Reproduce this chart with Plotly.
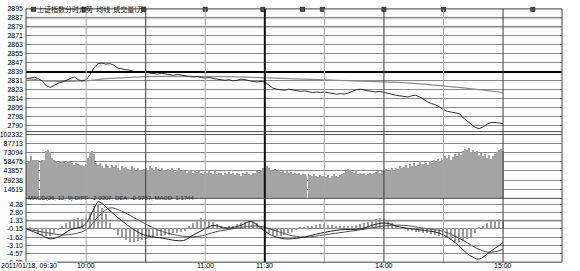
import plotly.graph_objects as go

W, H = 580, 271

# ---------------- data ----------------
prev_close = 2839.0
price_tick_vals = [2790.34, 2798.45, 2806.56, 2814.67, 2822.78, 2830.89, 2839.0,
                   2847.11, 2855.22, 2863.33, 2871.44, 2879.55, 2887.66, 2895.77]
price_tick_text = ["2790", "2798", "2806", "2814", "2823", "2831", "2839",
                   "2847", "2855", "2863", "2871", "2879", "2887", "2895"]
pct_tick_text = ["1.7%", "1.4%", "1.1%", "0.9%", "0.6%", "0.3%", "0.0%",
                 "0.3%", "0.6%", "0.9%", "1.1%", "1.4%", "1.7%", "2.0%"]
vol_tick_vals = [14619, 29238, 43857, 58475, 73094, 87713, 102332]
vol_tick_text = ["14619", "29238", "43857", "58475", "73094", "87713", "102332"]
macd_tick_vals = [-6.05, -4.57, -3.10, -1.62, -0.15, 1.33, 2.80, 4.28]
macd_tick_text = ["-6.05", "-4.57", "-3.10", "-1.62", "-0.15", "1.33", "2.80", "4.28"]

time_tick_vals = [30, 90, 120, 180, 240]
time_tick_text = ["10:00", "11:00", "11:30", "14:00", "15:00"]
date_label = "2011/01/18, 09:30"
title_text = "上证指数分时走势  均线  成交量(万)"
macd_text = "MACD(26, 12, 9) DIFF: -2.0307, DEA: -0.0757, MACD: 1.1744"

price_minutes = list(range(0, 241, 2))
price = [2833.0, 2833.8, 2834.2, 2833.0, 2830.5, 2826.5, 2825.0, 2827.0, 2829.0, 2830.0,
         2831.5, 2833.0, 2834.5, 2832.0, 2831.0, 2832.0, 2836.5, 2843.0, 2846.5, 2847.0,
         2846.0, 2846.5, 2845.0, 2842.5, 2841.5, 2841.0, 2840.5, 2839.5, 2838.5, 2838.5,
         2839.0, 2838.0, 2837.5, 2837.0, 2837.8, 2837.0, 2836.5, 2836.0, 2836.8, 2836.0,
         2835.5, 2835.0, 2834.5, 2835.0, 2834.0, 2833.5, 2834.0, 2833.0, 2832.5, 2832.0,
         2831.5, 2832.0, 2831.0, 2831.5, 2832.5, 2832.0, 2831.0, 2830.5, 2830.0, 2830.5,
         2830.0, 2827.0, 2824.5, 2823.5, 2823.0, 2822.5, 2823.5, 2823.0, 2822.0, 2821.5,
         2822.0, 2821.0, 2820.5, 2821.0, 2820.5, 2821.0, 2820.5, 2819.5, 2819.0, 2819.5,
         2819.0, 2820.0, 2821.5, 2823.0, 2823.5, 2822.5, 2822.0, 2821.5, 2821.0, 2821.5,
         2820.5, 2819.5, 2818.5, 2818.0, 2817.5, 2817.0, 2816.5, 2817.5, 2818.0, 2816.5,
         2814.0, 2812.0, 2810.5, 2809.5, 2807.5, 2805.0, 2803.5, 2803.0, 2802.5, 2801.5,
         2797.5, 2794.5, 2792.0, 2789.0, 2788.0, 2789.5, 2792.0, 2793.5, 2793.5, 2793.0,
         2792.5]

avg_minutes = [0, 10, 20, 30, 40, 50, 60, 70, 80, 90, 100, 110, 120,
               130, 140, 150, 160, 170, 180, 190, 200, 210, 220, 230, 240]
avg_price = [2833.0, 2830.8, 2830.5, 2831.0, 2833.0, 2834.2, 2834.8, 2835.0, 2835.1, 2835.0,
             2834.8, 2834.4, 2833.8, 2833.3, 2832.8, 2832.2, 2831.6, 2831.0, 2830.3, 2829.3,
             2828.0, 2826.5, 2824.6, 2822.6, 2820.5]

vol_minutes = list(range(0, 241))
volume = [57000, 60000, 68000, 63000, 62000, 62000, 63000, 61000, 62000, 63000,
          76000, 78000, 75000, 66000, 63000, 60000, 58000, 61000, 60000, 59000,
          57000, 60000, 59000, 58000, 55000, 57000, 56000, 54000, 55000, 53000,
          56000, 66000, 75000, 76000, 72000, 58000, 55000, 57000, 53000, 50000,
          56000, 52000, 49000, 55000, 51000, 54000, 50000, 47000, 53000, 49000,
          51000, 48000, 46000, 52000, 49000, 45000, 50000, 47000, 44000, 48000,
          50000, 47000, 53000, 49000, 46000, 51000, 48000, 45000, 49000, 47000,
          44000, 48000, 46000, 50000, 45000, 43000, 47000, 49000, 44000, 46000,
          45000, 42000, 47000, 44000, 41000, 46000, 43000, 45000, 42000, 40000,
          43000, 41000, 45000, 42000, 40000, 44000, 39000, 42000, 41000, 38000,
          42000, 40000, 43000, 39000, 41000, 38000, 42000, 40000, 37000, 41000,
          39000, 43000, 40000, 38000, 42000, 41000, 44000, 43000, 47000, 50000,
          56000, 52000, 49000, 47000, 45000, 48000, 44000, 46000, 43000, 45000,
          42000, 44000, 41000, 43000, 40000, 42000, 39000, 41000, 38000, 40000,
          39000, 37000, 40000, 38000, 36000, 39000, 37000, 35000, 38000, 36000,
          37000, 35000, 38000, 34000, 36000, 39000, 37000, 35000, 38000, 40000,
          42000, 45000, 48000, 46000, 43000, 41000, 44000, 40000, 42000, 39000,
          41000, 38000, 40000, 42000, 39000, 41000, 43000, 45000, 42000, 44000,
          46000, 48000, 44000, 47000, 49000, 45000, 50000, 48000, 52000, 49000,
          51000, 54000, 50000, 56000, 53000, 57000, 52000, 55000, 59000, 56000,
          56000, 58000, 54000, 60000, 57000, 62000, 59000, 64000, 61000, 66000,
          63000, 68000, 65000, 70000, 62000, 67000, 72000, 69000, 74000, 71000,
          76000, 80000, 78000, 82000, 75000, 79000, 73000, 77000, 70000, 74000,
          68000, 72000, 66000, 70000, 64000, 69000, 72000, 75000, 78000, 80000,
          76000]

diff_minutes = [0, 6, 12, 17, 22, 29, 34, 36, 38, 42, 51, 59, 67, 79, 84, 89, 94, 101,
                108, 113, 118, 123, 130, 138, 148, 158, 168, 176, 181, 188, 198, 208,
                216, 223, 228, 233, 240]
diff = [-0.15, -1.0, -1.9, -1.4, -0.3, 0.5, 3.5, 4.7, 4.4, 3.1, 0.5, -1.2, -1.7, -2.2,
        -1.2, -0.3, 0.5, 0.0, 0.5, 1.2, 0.0, -1.2, -1.9, -1.7, -0.9, -0.3, -0.15, 0.7,
        0.9, 0.2, -0.3, -0.9, -2.6, -4.8, -5.5, -4.3, -2.6]
dea_minutes = [0, 10, 20, 30, 36, 42, 48, 56, 66, 76, 86, 96, 106, 116, 124, 132, 140,
               150, 160, 170, 180, 190, 200, 210, 220, 228, 234, 240]
dea = [-0.15, -0.8, -1.2, -0.3, 2.0, 3.6, 3.0, 1.5, -0.3, -1.3, -1.5, -0.6, 0.0, 0.4,
       -0.3, -1.2, -1.6, -1.2, -0.7, -0.2, 0.4, 0.5, 0.0, -0.6, -2.2, -3.8, -4.3, -3.8]

hist_minutes = list(range(0, 241, 2))
hist = [0.0, -0.3, -0.6, -0.9, -1.2, -1.4,
        -1.5, -1.0, -0.4, 0.2, 0.8,
        1.2, 1.6, 1.8, 1.5, 1.7,
        2.8, 3.8, 4.3, 3.6, 2.4,
        0.8, -0.4, -1.2, -1.8, -2.2,
        -2.5, -2.6, -2.4, -2.2, -2.0,
        -1.8, -1.6, -1.5, -1.4, -1.3,
        -1.2, -1.0, -0.9, -0.8, -0.6,
        0.2, 0.8, 1.4, 1.8, 1.6,
        1.4, 1.0, 0.6, 0.3, 0.1,
        0.2, 0.4, 0.6, 0.9, 1.1,
        1.3, 1.2, 0.8, 0.2, -0.4,
        -0.9, -1.3, -1.5, -1.4, -1.2,
        -1.0, -0.7, -0.4, -0.2, 0.1,
        0.3, 0.4, 0.5, 0.6, 0.6,
        0.5, 0.5, 0.4, 0.4, 0.3,
        0.3, 0.4, 0.5, 0.7, 0.9,
        1.1, 1.4, 1.6, 1.7, 1.5,
        1.2, 0.8, 0.4, 0.0, -0.3,
        -0.5, -0.6, -0.7, -0.8, -0.9,
        -1.0, -1.1, -1.2, -1.4, -1.6,
        -1.9, -2.2, -2.5, -2.6, -2.4,
        -2.0, -1.6, -1.0, -0.3, 0.4,
        0.9, 1.2, 1.4, 1.5, 1.4]

info_minutes = [-0.5, 3.5, 29, 59, 90, 119, 139, 149, 180, 210, 255]

dark_vlines = [60, 180, 240]
light_vlines = [30, 90, 150, 210]
break_vline = 120

# ---------------- layout geometry (pixels) ----------------
LEFT, RIGHT = 26, 562
P_TOP, P_BOT = 5, 131
V_TOP, V_BOT = 134, 199.5
M_TOP, M_BOT = 199.5, 265
X_MIN, X_MAX = -0.3, 269.7

def fx(p):
    return p / W

def fy(p):
    return 1 - p / H

FONT = "Liberation Sans"
GRID = "#8a8a8a"

fig = go.Figure()

# price + average
fig.add_trace(go.Scatter(x=avg_minutes, y=avg_price, mode="lines",
                         line=dict(color="#8c8c8c", width=1.2), xaxis="x", yaxis="y",
                         hoverinfo="skip"))
fig.add_trace(go.Scatter(x=price_minutes, y=price, mode="lines",
                         line=dict(color="#303030", width=1), xaxis="x", yaxis="y"))
# info markers
fig.add_trace(go.Scatter(x=info_minutes, y=[2895.4] * len(info_minutes), mode="markers",
                         marker=dict(symbol="square", size=4, color="#606060",
                                     line=dict(color="#303030", width=1)),
                         xaxis="x", yaxis="y", cliponaxis=False))
# volume
fig.add_trace(go.Bar(x=vol_minutes, y=volume, width=0.5,
                     marker=dict(color="#a4a4a4", line=dict(width=0)),
                     xaxis="x", yaxis="y3"))
# macd
fig.add_trace(go.Bar(x=hist_minutes, y=hist, width=0.7,
                     marker=dict(color="#9c9c9c", line=dict(width=0)),
                     xaxis="x", yaxis="y4"))
fig.add_trace(go.Scatter(x=dea_minutes, y=dea, mode="lines", line_shape="spline",
                         line=dict(color="#505050", width=1), xaxis="x", yaxis="y4"))
fig.add_trace(go.Scatter(x=diff_minutes, y=diff, mode="lines", line_shape="spline",
                         line=dict(color="#202020", width=1), xaxis="x", yaxis="y4"))

shapes = []
# highlighted light grid lines
for yv in [2879.55, 2887.66]:
    shapes.append(dict(type="line", xref="paper", yref="y", x0=fx(LEFT), x1=fx(RIGHT),
                       y0=yv, y1=yv, line=dict(color="#c8c8c8", width=2.5), layer="below"))
shapes.append(dict(type="line", xref="paper", yref="y4", x0=fx(LEFT), x1=fx(RIGHT),
                   y0=1.33, y1=1.33, line=dict(color="#c8c8c8", width=2.5), layer="below"))
# previous close
shapes.append(dict(type="line", xref="paper", yref="y", x0=fx(LEFT), x1=fx(RIGHT),
                   y0=prev_close, y1=prev_close, line=dict(color="#000000", width=2)))
# vertical lines
for m in light_vlines:
    shapes.append(dict(type="line", xref="x", yref="paper", x0=m, x1=m,
                       y0=fy(M_BOT), y1=fy(P_TOP), line=dict(color="#a8a8a8", width=1)))
for m in dark_vlines:
    shapes.append(dict(type="line", xref="x", yref="paper", x0=m, x1=m,
                       y0=fy(M_BOT), y1=fy(P_TOP), line=dict(color="#3a3a3a", width=1)))
shapes.append(dict(type="line", xref="x", yref="paper", x0=break_vline, x1=break_vline,
                   y0=fy(M_BOT), y1=fy(P_TOP), line=dict(color="#101010", width=2)))
# separators and frame
for yp in [P_BOT, V_TOP, M_TOP]:
    shapes.append(dict(type="line", xref="paper", yref="paper", x0=fx(LEFT), x1=fx(RIGHT),
                       y0=fy(yp), y1=fy(yp), line=dict(color="#505050", width=1)))
shapes.append(dict(type="rect", xref="paper", yref="paper", x0=fx(LEFT), x1=fx(RIGHT),
                   y0=fy(M_BOT), y1=fy(P_TOP), line=dict(color="#404040", width=1)))

annotations = [
    dict(text=date_label, x=0, y=0, xref="paper", yref="paper", xanchor="left",
         yanchor="bottom", showarrow=False, font=dict(family=FONT, size=7, color="#000"),
         yshift=-2, borderpad=0, bgcolor="white"),
    dict(text=title_text, x=fx(36), y=1, xref="paper", yref="paper", xanchor="left",
         yanchor="top", showarrow=False, yshift=1, borderpad=0,
         font=dict(family="Noto Sans CJK SC", size=7, color="#202020")),
    dict(text=macd_text, x=fx(27), y=fy(M_TOP), xref="paper", yref="paper", xanchor="left",
         yanchor="middle", showarrow=False, borderpad=0,
         font=dict(family="Liberation Sans Narrow, Liberation Sans", size=6, color="#202020")),
]
for v, t in zip(time_tick_vals, time_tick_text):
    annotations.append(dict(text=t, x=v, y=0, xref="x", yref="paper", xanchor="center",
                            yanchor="bottom", showarrow=False, yshift=-2, borderpad=0,
                            font=dict(family=FONT, size=7, color="#000")))

axis_font = dict(family=FONT, size=7, color="#000")

fig.update_layout(
    width=W, height=H, margin=dict(l=0, r=0, t=0, b=0),
    paper_bgcolor="white", plot_bgcolor="white", showlegend=False,
    bargap=0, barmode="overlay",
    shapes=shapes, annotations=annotations,
    xaxis=dict(domain=[fx(LEFT), fx(RIGHT)], range=[X_MIN, X_MAX], anchor="y4",
               showgrid=False, zeroline=False, showticklabels=False, ticks=""),
    yaxis=dict(domain=[fy(P_BOT), fy(P_TOP)], range=[2785.27, 2895.8], anchor="x",
               tickvals=price_tick_vals, ticktext=price_tick_text, tickfont=axis_font,
               showgrid=True, gridcolor=GRID, gridwidth=1, zeroline=False, ticks="",
               ticklabelstandoff=2),
    yaxis2=dict(overlaying="y", side="right", range=[2785.27, 2895.8], anchor="x",
                tickvals=price_tick_vals, ticktext=pct_tick_text, tickfont=axis_font,
                showgrid=False, zeroline=False, ticks="", ticklabelstandoff=1),
    yaxis3=dict(domain=[fy(V_BOT), fy(V_TOP)], range=[0, 102332], anchor="x",
                tickvals=vol_tick_vals, ticktext=vol_tick_text, tickfont=axis_font,
                showgrid=True, gridcolor=GRID, gridwidth=1, zeroline=False, ticks="",
                ticklabelstandoff=2),
    yaxis4=dict(domain=[fy(M_BOT), fy(M_TOP)], range=[-6.05, 5.3], anchor="x",
                tickvals=macd_tick_vals, ticktext=macd_tick_text, tickfont=axis_font,
                showgrid=True, gridcolor=GRID, gridwidth=1, zeroline=False, ticks="",
                ticklabelstandoff=2),
)

fig.write_html("out.html")
